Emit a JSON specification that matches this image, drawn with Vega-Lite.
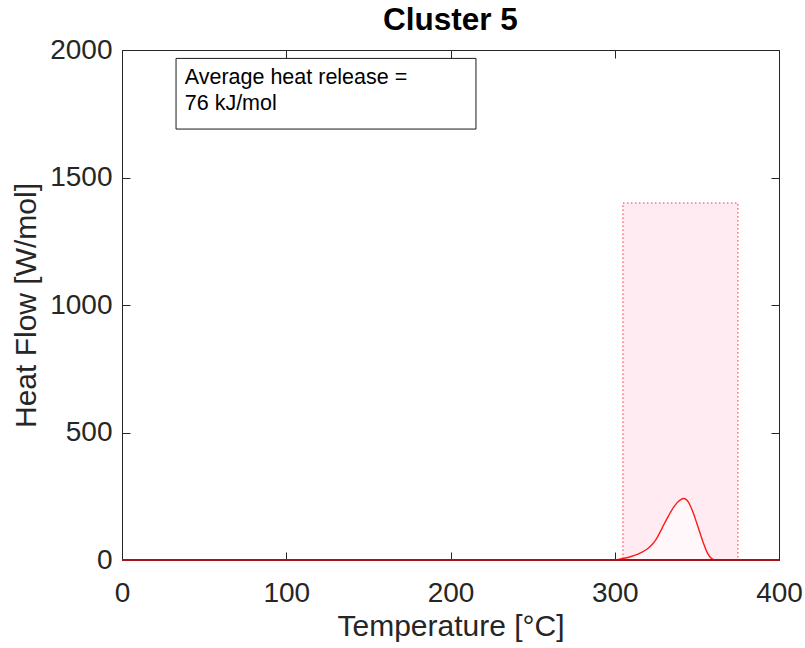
{
  "$schema": "https://vega.github.io/schema/vega-lite/v6.json",
  "width": 657,
  "height": 510,
  "autosize": {"type": "none"},
  "padding": {"left": 122, "top": 50, "right": 26, "bottom": 88},
  "background": "white",
  "config": {
    "view": {"stroke": null},
    "font": "Liberation Sans",
    "axis": {
      "domainColor": "#262626",
      "tickColor": "#262626",
      "labelColor": "#262626",
      "titleColor": "#262626",
      "grid": false,
      "labelFont": "Liberation Sans",
      "titleFont": "Liberation Sans",
      "labelFontSize": 28,
      "titleFontSize": 30,
      "titleFontWeight": "normal",
      "tickSize": -8,
      "domainWidth": 1,
      "tickWidth": 1
    }
  },
  "title": {
    "text": "Cluster 5",
    "fontSize": 31.5,
    "fontWeight": "bold",
    "font": "Liberation Sans",
    "color": "black",
    "anchor": "middle",
    "offset": 0
  },
  "resolve": {"axis": {"x": "independent", "y": "independent"}},
  "layer": [
    {
      "data": {"values": [{"x0": 305, "x1": 375, "y0": 0, "y1": 1400}]},
      "mark": {"type": "rect", "fill": "#ffebf1", "stroke": "#ff2b3c", "strokeWidth": 1, "strokeDash": [1.5, 2.5]},
      "encoding": {
        "x": {"field": "x0", "type": "quantitative", "scale": {"domain": [0, 400], "nice": false, "zero": false},
          "axis": {"orient": "bottom", "title": "Temperature [°C]", "values": [0, 100, 200, 300, 400], "labelPadding": 27, "titlePadding": 4, "labelFlush": false}},
        "x2": {"field": "x1"},
        "y": {"field": "y0", "type": "quantitative", "scale": {"domain": [0, 2000], "nice": false},
          "axis": {"orient": "left", "title": "Heat Flow [W/mol]", "format": "d", "values": [0, 500, 1000, 1500, 2000], "labelPadding": 18, "titlePadding": 8, "labelFlush": false}},
        "y2": {"field": "y1"}
      }
    },
    {
      "data": {"name": "curve", "values": [
        {"t": 0, "q": 0}, {"t": 290, "q": 0}, {"t": 300, "q": 1}, {"t": 304, "q": 5}, {"t": 308, "q": 10},
        {"t": 312, "q": 18}, {"t": 316, "q": 29}, {"t": 320, "q": 44}, {"t": 322, "q": 56}, {"t": 324, "q": 70},
        {"t": 326, "q": 90}, {"t": 328, "q": 114}, {"t": 330, "q": 140}, {"t": 332, "q": 164}, {"t": 334, "q": 188},
        {"t": 336, "q": 208}, {"t": 338, "q": 225}, {"t": 340, "q": 236}, {"t": 342, "q": 241}, {"t": 344, "q": 234},
        {"t": 346, "q": 213}, {"t": 348, "q": 181}, {"t": 350, "q": 143}, {"t": 352, "q": 104}, {"t": 354, "q": 66},
        {"t": 356, "q": 33}, {"t": 358, "q": 12}, {"t": 360, "q": 2}, {"t": 361.5, "q": 0}, {"t": 400, "q": 0}
      ]},
      "layer": [
        {
          "mark": {"type": "area", "color": "#fff7fa", "interpolate": "monotone"},
          "encoding": {
            "x": {"field": "t", "type": "quantitative", "axis": null},
            "y": {"field": "q", "type": "quantitative", "axis": null}
          }
        },
        {
          "mark": {"type": "line", "color": "#ff1a1a", "strokeWidth": 1.4, "interpolate": "monotone"},
          "encoding": {
            "x": {"field": "t", "type": "quantitative", "axis": null},
            "y": {"field": "q", "type": "quantitative", "axis": null}
          }
        }
      ]
    },
    {
      "data": {"values": [{"a": 0, "b": 400, "v": 0}]},
      "mark": {"type": "rule", "color": "#a4141c", "strokeWidth": 2},
      "encoding": {
        "x": {"field": "a", "type": "quantitative", "axis": null},
        "x2": {"field": "b"},
        "y": {"field": "v", "type": "quantitative", "axis": null}
      }
    },
    {
      "data": {"values": [{"bx0": 32.9, "bx1": 215.5, "by0": 1690, "by1": 1967}]},
      "mark": {"type": "rect", "fill": "white", "stroke": "#1a1a1a", "strokeWidth": 1},
      "encoding": {
        "x": {"field": "bx0", "type": "quantitative",
          "axis": {"orient": "top", "labels": false, "title": null, "values": [0, 100, 200, 300, 400], "domain": true}},
        "x2": {"field": "bx1"},
        "y": {"field": "by0", "type": "quantitative",
          "axis": {"orient": "right", "labels": false, "title": null, "values": [0, 500, 1000, 1500, 2000], "domain": true}},
        "y2": {"field": "by1"}
      }
    },
    {
      "data": {"values": [
        {"tx": 38.2, "ty": 1867, "label": "Average heat release ="},
        {"tx": 38.2, "ty": 1765, "label": "76 kJ/mol"}
      ]},
      "mark": {"type": "text", "align": "left", "baseline": "alphabetic", "fontSize": 21.5, "font": "Liberation Sans", "color": "black"},
      "encoding": {
        "x": {"field": "tx", "type": "quantitative", "axis": null},
        "y": {"field": "ty", "type": "quantitative", "axis": null},
        "text": {"field": "label", "type": "nominal"}
      }
    }
  ]
}
